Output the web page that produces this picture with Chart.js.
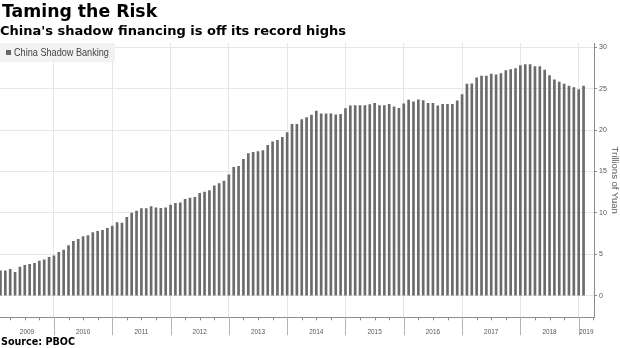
<!DOCTYPE html>
<html>
<head>
<meta charset="utf-8">
<script src="https://cdn.jsdelivr.net/npm/chart.js@4.4.1/dist/chart.umd.min.js"></script>
<style>
  html, body { margin: 0; padding: 0; background: #fff; }
  #wrap { position: relative; width: 620px; height: 348px; overflow: hidden; }
  #chart { position: absolute; left: 0; top: 0; }
  .head { position: absolute; white-space: nowrap; font-family: "DejaVu Sans", sans-serif; font-weight: bold; color: #000; line-height: 1; }
  #title { left: 2px; top: 3px; font-size: 17.3px; }
  #subtitle { left: 0px; top: 24px; font-size: 13px; }
  #source { left: 1px; top: 337px; font-size: 9.6px; }
  #legend { position: absolute; left: 0; top: 43px; width: 115px; height: 19px; background: #f2f2f2;
            font-family: "Liberation Sans", sans-serif; font-size: 11px; color: #444;
            line-height: 19px; white-space: nowrap; }
  #legend .sw { position: absolute; left: 6px; top: 7px; width: 5px; height: 5px; background: #666; }
  #legend .lb { position: absolute; left: 14px; top: 0; transform: scaleX(0.83); transform-origin: 0 50%; }
</style>
</head>
<body>
<div id="wrap">
  <canvas id="chart" width="620" height="348"></canvas>
  <div id="title" class="head">Taming the Risk</div>
  <div id="subtitle" class="head">China's shadow financing is off its record highs</div>
  <div id="legend"><span class="sw"></span><span class="lb">China Shadow Banking</span></div>
  <div id="source" class="head">Source: PBOC</div>
</div>
<script>
// Monthly outstanding shadow banking (trillions of yuan), Jan 2009 – Jan 2019
const years = ['2009', '2010', '2011', '2012', '2013', '2014', '2015', '2016', '2017', '2018', '2019'];
const shadowBanking = [
  // 2009
  3.02, 3.02, 3.19, 2.83, 3.47, 3.67, 3.79, 3.91, 4.19, 4.35, 4.64, 4.83,
  // 2010
  5.24, 5.52, 6.04, 6.57, 6.81, 7.13, 7.25, 7.61, 7.78, 7.90, 8.14, 8.42,
  // 2011
  8.82, 8.78, 9.47, 9.99, 10.23, 10.51, 10.51, 10.75, 10.60, 10.55, 10.60, 10.95,
  // 2012
  11.16, 11.20, 11.64, 11.80, 11.88, 12.37, 12.52, 12.68, 13.25, 13.53, 13.85, 14.58,
  // 2013
  15.50, 15.63, 16.47, 17.15, 17.32, 17.39, 17.51, 18.16, 18.56, 18.77, 19.13, 19.69,
  // 2014
  20.70, 20.70, 21.26, 21.50, 21.80, 22.27, 21.95, 21.95, 21.95, 21.82, 21.90, 22.60,
  // 2015
  22.91, 22.95, 22.95, 22.95, 23.07, 23.23, 22.95, 22.95, 23.11, 22.79, 22.63, 23.15,
  // 2016
  23.60, 23.39, 23.63, 23.55, 23.23, 23.23, 22.91, 23.11, 23.11, 23.11, 23.51, 24.28,
  // 2017
  25.53, 25.57, 26.29, 26.50, 26.50, 26.74, 26.65, 26.81, 27.17, 27.29, 27.42, 27.78,
  // 2018
  27.90, 27.90, 27.66, 27.66, 27.22, 26.57, 26.05, 25.77, 25.53, 25.29, 25.12, 24.88,
  // 2019
  25.29
];
const yTicks = [0, 5, 10, 15, 20, 25, 30];

// month index of each December (year boundary), and of the other quarter ends
const yearEnds = years.slice(0, -1).map((_, k) => k * 12 + 11);
const quarterEnds = [];
for (let i = 2; i <= 122; i += 3) if ((i + 1) % 12 !== 0) quarterEnds.push(i);

const FONT = '"Liberation Sans", sans-serif';

// time axis: quarter ticks, year separators and centred year labels
const yearAxis = {
  id: 'yearAxis',
  afterDraw(chart) {
    const { ctx, chartArea, scales: { x } } = chart;
    const y0 = chartArea.bottom;
    ctx.save();
    ctx.lineWidth = 1;
    ctx.strokeStyle = '#8c8c8c';
    ctx.beginPath();
    quarterEnds.forEach(i => {
      const px = Math.round(x.getPixelForValue(i)) + 0.5;
      if (px > chartArea.right) return;
      ctx.moveTo(px, y0); ctx.lineTo(px, y0 + 3);
    });
    ctx.stroke();
    ctx.strokeStyle = '#b4b4b4';
    ctx.beginPath();
    yearEnds.forEach(i => {
      const px = Math.round(x.getPixelForValue(i)) + 0.5;
      ctx.moveTo(px, y0); ctx.lineTo(px, y0 + 18);
    });
    ctx.stroke();
    ctx.fillStyle = '#555';
    ctx.font = '8px ' + FONT;
    ctx.textAlign = 'center';
    ctx.textBaseline = 'middle';
    years.forEach((yr, k) => {
      const a = Math.max(chartArea.left, x.getPixelForValue(k * 12 - 1));
      const b = Math.min(chartArea.right, x.getPixelForValue(k * 12 + 11));
      ctx.save();
      ctx.translate((a + b) / 2, y0 + 14);
      ctx.scale(0.8, 1);
      ctx.fillText(yr, 0, 0);
      ctx.restore();
    });
    ctx.restore();
  }
};

new Chart(document.getElementById('chart'), {
  type: 'bar',
  data: {
    datasets: [{
      label: 'China Shadow Banking',
      data: shadowBanking.map((v, i) => ({ x: i, y: v })),
      backgroundColor: '#6b6b6b',
      borderWidth: 0,
      barThickness: 2
    }]
  },
  options: {
    responsive: false,
    animation: false,
    devicePixelRatio: 1,
    layout: { padding: { top: 43, left: 0, right: 0, bottom: 0 } },
    plugins: { legend: { display: false }, tooltip: { enabled: false } },
    scales: {
      x: {
        type: 'linear',
        min: -0.1,
        max: 122.15,
        offset: false,
        afterBuildTicks: s => { s.ticks = yearEnds.map(v => ({ value: v })); },
        afterFit: s => { s.height = 30.7; },
        ticks: { display: false },
        grid: { color: '#e6e6e6', drawTicks: false, offset: false },
        border: { color: '#8c8c8c' }
      },
      y: {
        position: 'right',
        min: -2.6,
        max: 30.5,
        afterBuildTicks: s => { s.ticks = yTicks.map(v => ({ value: v })); },
        afterFit: s => { s.width = 26; },
        ticks: { font: { family: FONT, size: 7 }, color: '#555', padding: 2 },
        grid: { color: '#e6e6e6', tickLength: 3, tickColor: '#8c8c8c' },
        border: { color: '#8c8c8c' },
        title: { display: true, text: 'Trillions of Yuan', font: { family: FONT, size: 9.5 }, color: '#555', padding: 0 }
      }
    }
  },
  plugins: [yearAxis]
});
</script>
</body>
</html>
